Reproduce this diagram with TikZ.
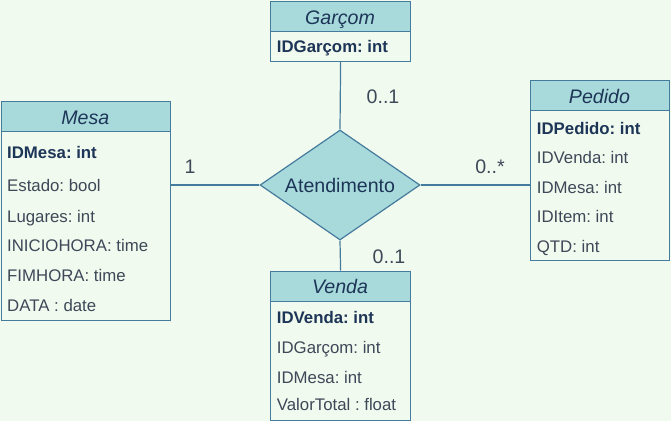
\documentclass[tikz,border=0pt]{standalone}
\usepackage{fontspec}
\setmainfont{Liberation Sans}
\usetikzlibrary{shapes.geometric}
\definecolor{bgc}{HTML}{F1FAEE}
\definecolor{headc}{HTML}{A8DADC}
\definecolor{strokec}{HTML}{457B9D}
\definecolor{darkc}{HTML}{1D3557}
\definecolor{attrc}{HTML}{3D4858}
\frenchspacing
\begin{document}
\begin{tikzpicture}[x=1pt,y=-1pt,
  box/.style={draw=strokec, fill=bgc, line width=1.2pt, inner sep=0, anchor=north west},
  head/.style={box, fill=headc},
  ttl/.style={anchor=base, inner sep=0, text=darkc, font=\frenchspacing\fontsize{19.6}{22}\selectfont\itshape},
  keyattr/.style={anchor=base west, inner sep=0, text=darkc, font=\frenchspacing\fontsize{16.8}{20}\selectfont\bfseries},
  attr/.style={anchor=base west, inner sep=0, text=attrc, font=\frenchspacing\fontsize{16.8}{20}\selectfont},
  lbl/.style={anchor=base, inner sep=0, text=attrc, font=\fontsize{19.6}{22}\selectfont},
  conn/.style={draw=strokec, line width=1.2pt},
  rel/.style={diamond, draw=strokec, fill=headc, line width=1.2pt, inner sep=0, minimum width=160pt, minimum height=110pt}]
\fill[bgc] (0,0) rectangle (671,421);
\useasboundingbox (0,0) rectangle (671,421);

% Mesa
\node[box, minimum width=169.3pt, minimum height=219.3pt] (mesa) at (0.7,100.7) {};
\node[head, minimum width=169.3pt, minimum height=30pt] (mesaH) at (0.7,100.7) {};
\node[ttl] (mesaT) at (85.3,124.3) {Mesa};
\node[keyattr] (m1) at (7,158) {IDMesa: int};
\node[attr] (m2) at (7,191) {Estado: bool};
\node[attr] (m3) at (7,222.5) {Lugares: int};
\node[attr] (m4) at (7,251) {INICIOHORA: time};
\node[attr] (m5) at (7,281) {FIMHORA: time};
\node[attr] (m6) at (7,311) {DATA : date};

% Garcom
\node[box, minimum width=140pt, minimum height=60.3pt] (garcom) at (270,0.7) {};
\node[head, minimum width=140pt, minimum height=30.3pt] (garcomH) at (270,0.7) {};
\node[ttl] (garcomT) at (340,24) {Garçom};
\node[keyattr] (g1) at (276.7,52.7) {IDGarçom: int};

% Pedido
\node[box, minimum width=139pt, minimum height=180pt] (pedido) at (530,80) {};
\node[head, minimum width=139pt, minimum height=30pt] (pedidoH) at (530,80) {};
\node[ttl] (pedidoT) at (599.5,103.3) {Pedido};
\node[keyattr] (p1) at (536.7,134) {IDPedido: int};
\node[attr] (p2) at (536.7,163.5) {IDVenda: int};
\node[attr] (p3) at (536.7,193) {IDMesa: int};
\node[attr] (p4) at (536.7,222.5) {IDItem: int};
\node[attr] (p5) at (536.7,252) {QTD: int};

% Venda
\node[box, minimum width=140pt, minimum height=149.5pt] (venda) at (270,270.5) {};
\node[head, minimum width=140pt, minimum height=30pt] (vendaH) at (270,270.5) {};
\node[ttl] (vendaT) at (340,293.3) {Venda};
\node[keyattr] (v1) at (276.7,323.3) {IDVenda: int};
\node[attr] (v2) at (276.7,353.3) {IDGarçom: int};
\node[attr] (v3) at (276.7,383.3) {IDMesa: int};
\node[attr] (v4) at (276.7,410.7) {ValorTotal : float};

% Relationship
\node[rel] (atend) at (340,185) {};
\node[lbl, text=darkc] (atendT) at (340,192.7) {Atendimento};

% Connectors
\draw[conn] (atend.west) -- (atend.west -| mesa.east);
\draw[conn] (atend.east) -- (atend.east -| pedido.west);
\draw[conn] (garcom.south) -- (atend.north);
\draw[conn] (atend.south) -- (venda.north);

% Multiplicities
\node[lbl] (l1) at (190,173) {1};
\node[lbl] (l2) at (490,173) {0..*};
\node[lbl] (l3) at (383,103) {0..1};
\node[lbl] (l4) at (389,263) {0..1};
\end{tikzpicture}
\end{document}
